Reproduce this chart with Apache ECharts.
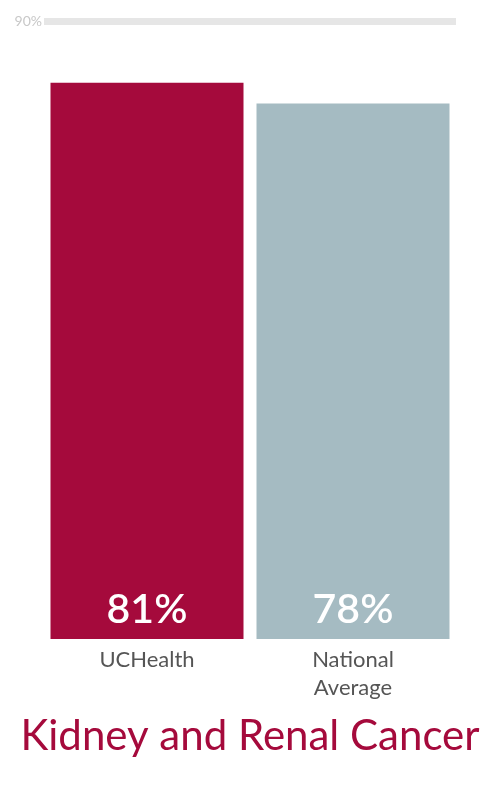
<!DOCTYPE html>
<html><head><meta charset="utf-8">
<script src="https://cdn.jsdelivr.net/npm/echarts@6/dist/echarts.min.js"></script>
<style>html,body{margin:0;padding:0;background:#fff}#c{width:500px;height:800px}</style>
</head><body><div id="c"></div>
<script>
const categories = ['UCHealth', 'National\nAverage'];
const values = [81, 78];
const barColors = ['#a50a3c', '#a5bbc2'];
const axisMax = 90;
const chartTitle = 'Kidney and Renal Cancer';

const chart = echarts.init(document.getElementById('c'));
chart.setOption({
  animation: false,
  title: {
    text: chartTitle, left: 'center', top: 710,
    textStyle: { color: '#a50a3c', fontFamily: 'Lato', fontWeight: 'normal', fontSize: 42 }
  },
  grid: { left: 44, right: 44, top: 21, bottom: 161 },
  xAxis: {
    type: 'category', data: categories,
    axisLine: { show: false }, axisTick: { show: false },
    axisLabel: { color: '#555', fontFamily: 'Lato', fontSize: 22, lineHeight: 28, margin: 7 }
  },
  yAxis: {
    type: 'value', min: 0, max: axisMax, interval: axisMax,
    axisLine: { show: false }, axisTick: { show: false },
    axisLabel: { color: '#c8c8c8', fontFamily: 'Lato', fontSize: 14, margin: 2,
      formatter: v => v === axisMax ? v + '%' : '' },
    splitLine: { show: true, lineStyle: { color: ['rgba(0,0,0,0)', '#e6e6e6'], width: 7 } }
  },
  series: [{
    type: 'bar', barWidth: 193,
    data: values.map((v, i) => ({ value: v, itemStyle: { color: barColors[i] } })),
    label: {
      show: true, position: 'insideBottom', distance: 9,
      formatter: '{c}%', color: '#fff', fontFamily: 'Lato', fontWeight: 600, fontSize: 41
    }
  }]
});
</script></body></html>
